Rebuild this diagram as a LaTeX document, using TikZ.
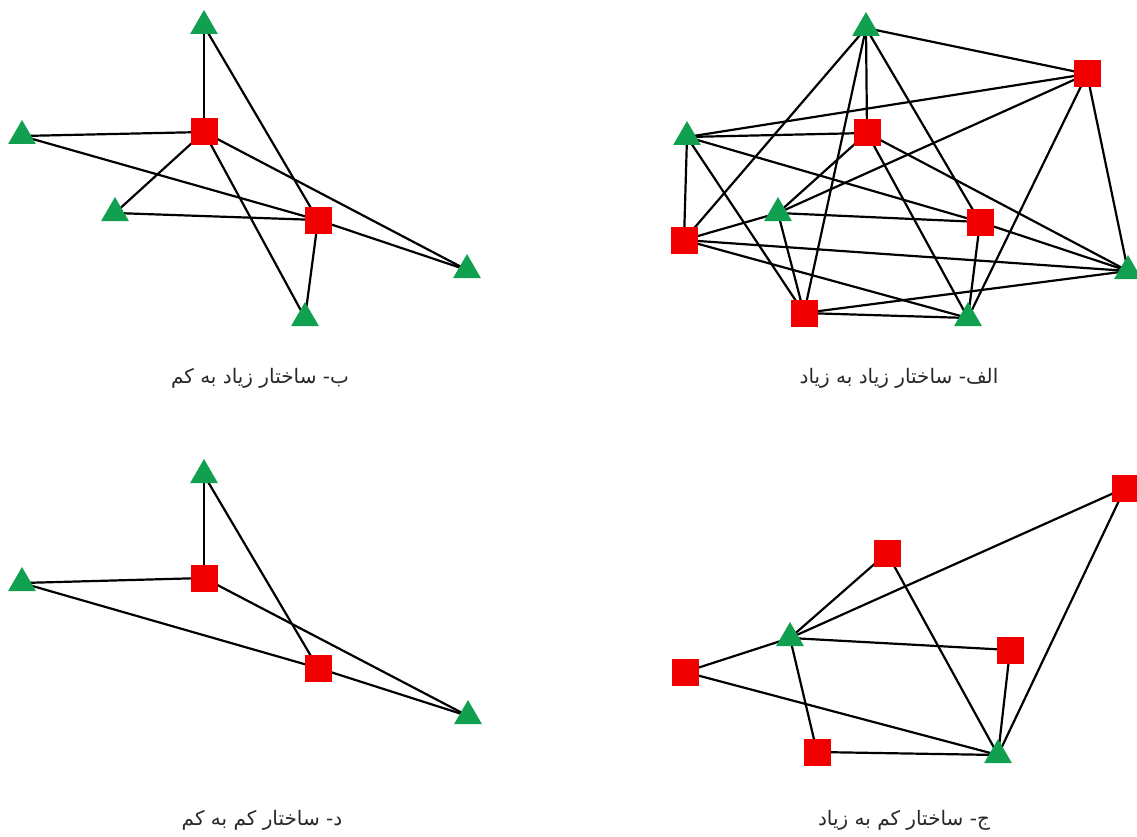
\documentclass[tikz,border=0pt]{standalone}
\usepackage{fontspec}
\usetikzlibrary{shapes.geometric}
\newfontfamily\arabicfont[Script=Arabic]{DejaVu Sans}
\TeXXeTstate=1
\definecolor{nodegreen}{RGB}{16,160,80}
\definecolor{nodered}{RGB}{240,0,0}
\definecolor{captiongray}{RGB}{40,40,40}
\pgfdeclarelayer{edgelayer}
\pgfsetlayers{edgelayer,main}
\tikzset{
  tri/.style={regular polygon, regular polygon sides=3, fill=nodegreen, draw=none, minimum size=32pt, inner sep=0pt},
  sq/.style={rectangle, fill=nodered, draw=none, minimum size=27pt, inner sep=0pt},
  edge/.style={draw=black, line width=2.2pt},
  caption/.style={font=\arabicfont\fontsize{20}{24}\selectfont, text=captiongray, inner sep=0pt}
}
\begin{document}
\begin{tikzpicture}[x=1pt,y=-1pt]
\useasboundingbox (0,0) rectangle (1137,837);
% ---------- Graph alef (top right)
\node[tri] (aA) at (866,28) {};
\node[sq]  (aB) at (1087,74) {};
\node[tri] (aC) at (687,137) {};
\node[sq]  (aD) at (867,133) {};
\node[tri] (aE) at (778,213) {};
\node[sq]  (aF) at (980,222) {};
\node[sq]  (aG) at (684,240) {};
\node[tri] (aH) at (1128,271) {};
\node[sq]  (aI) at (804,313) {};
\node[tri] (aJ) at (968,318) {};
% ---------- Graph be (top left)
\node[tri] (b1) at (204,26) {};
\node[tri] (b2) at (22,136) {};
\node[sq]  (b3) at (204,132) {};
\node[tri] (b4) at (115,213) {};
\node[sq]  (b5) at (318,220) {};
\node[tri] (b6) at (467,270) {};
\node[tri] (b7) at (305,318) {};
% ---------- Graph dal (bottom left)
\node[tri] (d1) at (204,475) {};
\node[tri] (d2) at (22,583) {};
\node[sq]  (d3) at (204,578) {};
\node[sq]  (d4) at (318,668) {};
\node[tri] (d5) at (468,716) {};
% ---------- Graph jim (bottom right)
\node[sq]  (j1) at (1125,488) {};
\node[sq]  (j2) at (887,553) {};
\node[tri] (j3) at (790,638) {};
\node[sq]  (j4) at (1010,650) {};
\node[sq]  (j5) at (685,672) {};
\node[sq]  (j6) at (817,752) {};
\node[tri] (j7) at (998,755) {};
% ---------- Edges
\begin{pgfonlayer}{edgelayer}
\foreach \u/\v in {aA/aB,aA/aD,aA/aG,aA/aI,aA/aF,aB/aC,aB/aE,aB/aJ,aB/aH,aC/aD,aC/aG,aC/aF,aC/aI,aD/aE,aD/aJ,aD/aH,aE/aF,aE/aG,aE/aI,aF/aH,aF/aJ,aG/aH,aG/aJ,aI/aJ,aI/aH}
  \draw[edge] (\u.center) -- (\v.center);
\foreach \u/\v in {b1/b3,b1/b5,b2/b3,b2/b5,b3/b4,b3/b7,b3/b6,b4/b5,b5/b6,b5/b7}
  \draw[edge] (\u.center) -- (\v.center);
\foreach \u/\v in {d1/d3,d1/d4,d2/d3,d2/d4,d3/d5,d4/d5}
  \draw[edge] (\u.center) -- (\v.center);
\foreach \u/\v in {j5/j3,j5/j7,j3/j2,j3/j1,j3/j4,j3/j6,j6/j7,j2/j7,j4/j7,j1/j7}
  \draw[edge] (\u.center) -- (\v.center);
\end{pgfonlayer}
% ---------- Captions
\node[caption] (capA) at (899,378) {\beginR الف- ساختار زیاد به زیاد\endR};
\node[caption] (capB) at (260,378) {\beginR ب- ساختار زیاد به کم\endR};
\node[caption] (capD) at (262,820) {\beginR د- ساختار کم به کم\endR};
\node[caption] (capJ) at (904,820) {\beginR ج- ساختار کم به زیاد\endR};
\end{tikzpicture}
\end{document}
